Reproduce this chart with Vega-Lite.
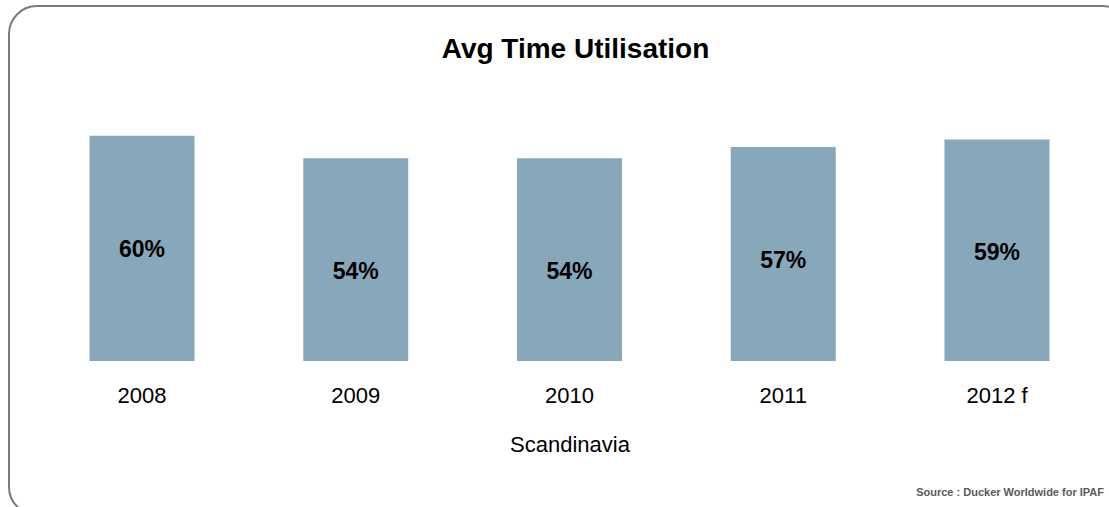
{
  "$schema": "https://vega.github.io/schema/vega-lite/v6.json",
  "autosize": "none",
  "padding": {"left": 9, "top": 6, "right": 0, "bottom": 0},
  "width": 1121,
  "height": 509,
  "background": "white",
  "config": {
    "view": {"stroke": "#7a7a7a", "strokeWidth": 2, "cornerRadius": 28, "fill": "white"},
    "font": "Liberation Sans"
  },
  "title": {
    "text": "Avg Time Utilisation",
    "font": "Liberation Sans",
    "fontSize": 28,
    "fontWeight": "bold",
    "color": "#000000",
    "anchor": "middle",
    "baseline": "alphabetic",
    "offset": -80,
    "dx": 6
  },
  "data": {
    "values": [
      {"year": "2008", "value": 60, "label": "60%"},
      {"year": "2009", "value": 54, "label": "54%"},
      {"year": "2010", "value": 54, "label": "54%"},
      {"year": "2011", "value": 57, "label": "57%"},
      {"year": "2012 f", "value": 59, "label": "59%"}
    ]
  },
  "layer": [
    {
      "mark": {"type": "bar", "color": "#87a7ba"},
      "encoding": {
        "x": {
          "field": "year",
          "type": "nominal",
          "sort": null,
          "scale": {"paddingInner": 0.5088, "paddingOuter": 0.3766},
          "axis": {
            "title": "Scandinavia",
            "titleFont": "Liberation Sans",
            "titleFontSize": 22,
            "titleFontWeight": "normal",
            "titleColor": "#000000",
            "titlePadding": 28,
            "labelFont": "Liberation Sans",
            "labelFontSize": 22,
            "labelColor": "#000000",
            "labelAngle": 0,
            "labelPadding": 24,
            "domain": false,
            "ticks": false,
            "grid": false,
            "offset": -154
          }
        },
        "y": {
          "field": "value",
          "type": "quantitative",
          "scale": {"domain": [-41.01, 94.54], "zero": false, "nice": false},
          "axis": null
        },
        "y2": {"datum": 0}
      }
    },
    {
      "mark": {"type": "text", "font": "Liberation Sans", "fontSize": 23, "fontWeight": "bold", "color": "#000000", "baseline": "middle", "dy": 114},
      "encoding": {
        "x": {"field": "year", "type": "nominal", "sort": null},
        "y": {"field": "value", "type": "quantitative"},
        "text": {"field": "label", "type": "nominal"}
      }
    },
    {
      "data": {"values": [{"source": "Source : Ducker Worldwide for IPAF"}]},
      "mark": {"type": "text", "font": "Liberation Sans", "fontSize": 11, "fontWeight": "bold", "color": "#5a5a5a", "align": "right", "baseline": "middle", "dx": 107},
      "encoding": {
        "x": {"datum": "2012 f"},
        "y": {"datum": -35.15},
        "text": {"field": "source"}
      }
    }
  ]
}
